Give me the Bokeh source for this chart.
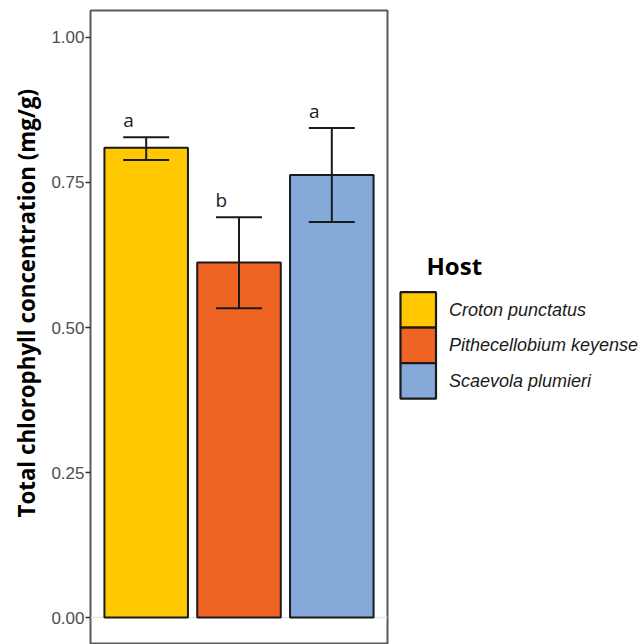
from bokeh.plotting import figure
from bokeh.layouts import row
from bokeh.models import (ColumnDataSource, FactorRange, Whisker, TeeHead, Span,
                          FixedTicker)
from bokeh.transform import dodge
from bokeh.core.properties import value
from bokeh.embed import file_html
from bokeh.resources import INLINE

# Data
hosts = ["Croton punctatus", "Pithecellobium keyense", "Scaevola plumieri"]
chlorophyll_mean = [0.810, 0.612, 0.763]
chlorophyll_upper = [0.828, 0.690, 0.844]
chlorophyll_lower = [0.789, 0.533, 0.682]
group_letters = ["a", "b", "a"]
host_colors = ["#FFC800", "#F06423", "#85AADA"]
y_ticks = [0.0, 0.25, 0.5, 0.75, 1.0]
y_tick_labels = ["0.00", "0.25", "0.50", "0.75", "1.00"]
y_title = "Total chlorophyll concentration (mg/g)"
legend_title = "Host"

src = ColumnDataSource(dict(
    host=hosts, mean=chlorophyll_mean, upper=chlorophyll_upper,
    lower=chlorophyll_lower, letter=group_letters, color=host_colors,
))

TOP, FRAME_H, H = 10, 634, 644

# ---------------- main panel ----------------
x_range = FactorRange(factors=hosts, range_padding=0.1, range_padding_units="absolute")
p = figure(
    x_range=x_range, y_range=(-0.04655, 1.04655),
    width=389, height=H,
    frame_width=297, frame_height=FRAME_H,
    x_axis_location=None,
    title=y_title, title_location="left",
    output_backend="svg", toolbar_location=None,
    min_border_left=90, min_border_top=TOP, min_border_bottom=0, min_border_right=2,
    background_fill_color="white", border_fill_color="white",
)
p.grid.visible = False
p.outline_line_color = "#5a5a5a"
p.outline_line_width = 2
p.title.align = "left"
p.title.offset = 127
p.title.standoff = 14
p.title.text_font = "Open Sans"
p.title.text_font_style = "bold"
p.title.text_font_size = "22.3px"
p.title.text_color = "black"

p.add_layout(Span(location=0, dimension="width", line_color="#e6e6e6",
                  line_width=1.5, level="underlay"))

p.vbar(x="host", top="mean", width=0.9, source=src, fill_color="color",
       line_color="#1a1a1a", line_width=2)

p.add_layout(Whisker(base="host", upper="upper", lower="lower", source=src, level="annotation",
                     line_color="#1a1a1a", line_width=2,
                     upper_head=TeeHead(size=46, line_color="#1a1a1a", line_width=2),
                     lower_head=TeeHead(size=46, line_color="#1a1a1a", line_width=2)))

p.text(x=dodge("host", -0.19, range=p.x_range), y="upper", text="letter", source=src,
       text_font=value("Open Sans"), text_font_size="19px",
       text_color="#222222", text_align="center", text_baseline="alphabetic", y_offset=-17)

ax = p.yaxis[0]
ax.ticker = FixedTicker(ticks=y_ticks)
ax.major_label_overrides = {t: l for t, l in zip(y_ticks, y_tick_labels)}
ax.minor_tick_line_color = None
ax.axis_line_color = None
ax.major_tick_out = 5
ax.major_tick_in = 0
ax.major_tick_line_color = "#333333"
ax.major_tick_line_width = 1.5
ax.major_label_standoff = 1
ax.major_label_text_font = "Liberation Sans"
ax.major_label_text_font_size = "17px"
ax.major_label_text_color = "#4d4d4d"

# ---------------- legend panel (pixel-like coordinates) ----------------
LG_W = 642 - 389
key_left, key_top, key_size = 11.0, 281.7, 35.5
label_gap = 13.0
key_y = [key_top + key_size * (i + 0.5) for i in range(len(hosts))]
lsrc = ColumnDataSource(dict(host=hosts, color=host_colors, y=key_y))

lg = figure(
    x_range=(0, LG_W), y_range=(FRAME_H, 0),
    width=LG_W, height=H, frame_width=LG_W, frame_height=FRAME_H,
    x_axis_location=None, y_axis_location=None,
    output_backend="svg", toolbar_location=None,
    min_border_left=0, min_border_right=0, min_border_top=TOP, min_border_bottom=0,
    background_fill_color="white", border_fill_color="white",
)
lg.grid.visible = False
lg.outline_line_color = None

lg.rect(x=key_left + key_size / 2, y="y", width=key_size, height=key_size, source=lsrc,
        fill_color="color", line_color="#1a1a1a", line_width=2.2)
lg.text(x=key_left + key_size + label_gap, y="y", text="host", source=lsrc,
        text_font=value("Liberation Sans"), text_font_style="italic", text_font_size="18px",
        text_color="#1a1a1a", text_align="left", text_baseline="middle")
lg.text(x=[key_left + 26], y=[key_top - 27], text=[legend_title],
        text_font=value("Open Sans"), text_font_style="bold", text_font_size="24px",
        text_color="black", text_align="left", text_baseline="alphabetic")

layout = row(p, lg, spacing=0)
open("out.html", "w").write(file_html(layout, INLINE))
